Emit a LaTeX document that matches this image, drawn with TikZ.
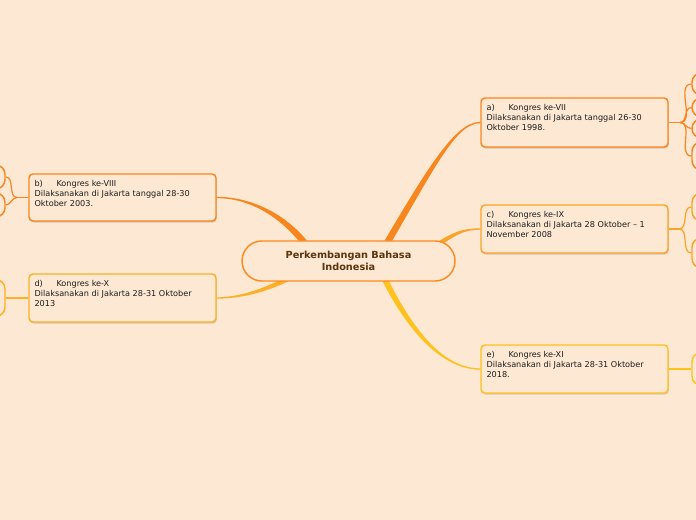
\documentclass[tikz,border=0pt]{standalone}
\usepackage{fontspec}
\setmainfont{DejaVu Sans}
\usetikzlibrary{calc,shadows}
\definecolor{bg}{RGB}{253,232,211}
\definecolor{ora}{RGB}{247,134,30}
\definecolor{orc}{RGB}{250,163,40}
\definecolor{ore}{RGB}{255,193,30}
\definecolor{ord}{RGB}{252,176,40}
\definecolor{cbd}{RGB}{255,138,30}
\definecolor{ctx}{RGB}{92,52,14}
\definecolor{txt}{RGB}{30,30,30}
\newcommand\taper[7]{%
  \coordinate (t1) at ($(#2)!#6!90:(#3)$);
  \coordinate (t2) at ($(#2)!#6!-90:(#3)$);
  \coordinate (t3) at ($(#5)!#7!-90:(#4)$);
  \coordinate (t4) at ($(#5)!#7!90:(#4)$);
  \fill[#1] (t1) .. controls ($(#3)+(t1)-(#2)$) and ($(#4)+(t3)-(#5)$) .. (t3)
    -- (t4) .. controls ($(#4)+(t4)-(#5)$) and ($(#3)+(t2)-(#2)$) .. (t2) -- cycle;
}
\tikzset{
  topicbox/.style={draw=#1, fill=bg, line width=1.1pt, rounded corners=3pt,
    minimum width=140.25pt, minimum height=36pt, inner sep=0pt,
    drop shadow={shadow xshift=0.6pt, shadow yshift=-1.2pt, opacity=0.25, fill=black!60}},
  edgebox/.style={draw=#1, fill=bg, line width=1.1pt, rounded corners=7pt,
    minimum width=36pt, inner sep=0pt},
  boxtext/.style={anchor=north west, inner sep=0pt, align=left, text=txt,
    font=\fontsize{6.1pt}{7.5pt}\selectfont},
  smallcon/.style={draw=#1, line width=0.9pt}
}
\begin{document}
\begin{tikzpicture}[x=0.75pt,y=-0.75pt]
\useasboundingbox (0,0) rectangle (696,520);
\clip (0,0) rectangle (696,520);
\fill[bg] (0,0) rectangle (696,520);

% main nodes (boxes)
\node[topicbox=ora, minimum height=36.75pt] (a) at (574.5,122.5) {};
\node[topicbox=orc] (c) at (574.5,229) {};
\node[topicbox=ore] (e) at (574.5,369) {};
\node[topicbox=ora, minimum height=35.25pt] (b) at (122.5,197.5) {};
\node[topicbox=ord] (d) at (122.5,298) {};

% branch control coordinates
\coordinate (pa0) at (380,255); \coordinate (pa1) at (430,170); \coordinate (pa2) at (455,122.5);
\coordinate (pc0) at (430,250); \coordinate (pc1) at (455,232); \coordinate (pc2) at (465,229);
\coordinate (pe0) at (378,265); \coordinate (pe1) at (410,335); \coordinate (pe2) at (445,369);
\coordinate (pb0) at (310,250); \coordinate (pb1) at (285,215); \coordinate (pb2) at (250,197.5);
\coordinate (pd0) at (300,272); \coordinate (pd1) at (270,290); \coordinate (pd2) at (240,298);

\taper{ora}{pa0}{pa1}{pa2}{a.west}{2.5pt}{0.5pt}
\taper{orc}{pc0}{pc1}{pc2}{c.west}{1.7pt}{0.5pt}
\taper{ore}{pe0}{pe1}{pe2}{e.west}{2.2pt}{0.5pt}
\taper{ora}{pb0}{pb1}{pb2}{b.east}{2.5pt}{0.5pt}
\taper{ord}{pd0}{pd1}{pd2}{d.east}{1.9pt}{0.5pt}

% central node
\node[draw=cbd, fill=bg, line width=1.1pt, rounded corners=14.9pt,
  minimum width=159.75pt, minimum height=30pt, inner sep=0pt, align=center,
  text=ctx, font=\bfseries\fontsize{7.3pt}{9pt}\selectfont] (C) at (348.5,261)
  {Perkembangan Bahasa\\Indonesia};

% edge (sub) nodes
\node[edgebox=ora, minimum height=16.5pt] (a1) at (716,84) {};
\node[edgebox=ora, minimum height=14.25pt] (a2) at (716,107.5) {};
\node[edgebox=ora, minimum height=14.25pt] (a3) at (716,128.5) {};
\node[edgebox=ora, minimum height=21pt] (a4) at (716,156) {};
\node[edgebox=orc, minimum height=21pt] (c1) at (716,207) {};
\node[edgebox=orc, minimum height=22.5pt] (c2) at (716,253) {};
\node[edgebox=ore, minimum height=24.75pt] (e1) at (716,369) {};
\node[edgebox=ora, minimum height=18pt] (b1) at (-19,177) {};
\node[edgebox=ora, minimum height=18pt] (b2) at (-19,205) {};
\node[edgebox=ord, minimum height=27.75pt] (d1) at (-19,298) {};

% junctions
\coordinate (ja) at (680,122.5);
\coordinate (jc) at (679,229);
\coordinate (jb) at (17,197.5);

\draw[smallcon=ora] (a.east) -- (ja);
\foreach \n in {a1,a2,a3,a4} \draw[smallcon=ora] (ja) to[out=0,in=180] (\n.west);
\draw[smallcon=orc] (c.east) -- (jc);
\foreach \n in {c1,c2} \draw[smallcon=orc] (jc) to[out=0,in=180] (\n.west);
\draw[smallcon=ore] (e.east) -- (e1.west);
\draw[smallcon=ora] (b.west) -- (jb);
\foreach \n in {b1,b2} \draw[smallcon=ora] (jb) to[out=180,in=0] (\n.east);
\draw[smallcon=ord] (d.west) -- (d1.east);

% texts
\node[boxtext] (at) at ($(a.north west)+(6,7)$) {\makebox[16.5pt][l]{a)}Kongres ke-VII\\Dilaksanakan di Jakarta tanggal 26-30\\Oktober 1998.};
\node[boxtext] (ct) at ($(c.north west)+(6,7)$) {\makebox[16.5pt][l]{c)}Kongres ke-IX\\Dilaksanakan di Jakarta 28 Oktober – 1\\November 2008};
\node[boxtext] (et) at ($(e.north west)+(6,7)$) {\makebox[16.5pt][l]{e)}Kongres ke-XI\\Dilaksanakan di Jakarta 28-31 Oktober\\2018.};
\node[boxtext] (bt) at ($(b.north west)+(6,7)$) {\makebox[16.5pt][l]{b)}Kongres ke-VIII\\Dilaksanakan di Jakarta tanggal 28-30\\Oktober 2003.};
\node[boxtext] (dt) at ($(d.north west)+(6,7)$) {\makebox[16.5pt][l]{d)}Kongres ke-X\\Dilaksanakan di Jakarta 28-31 Oktober\\2013};
\end{tikzpicture}
\end{document}
